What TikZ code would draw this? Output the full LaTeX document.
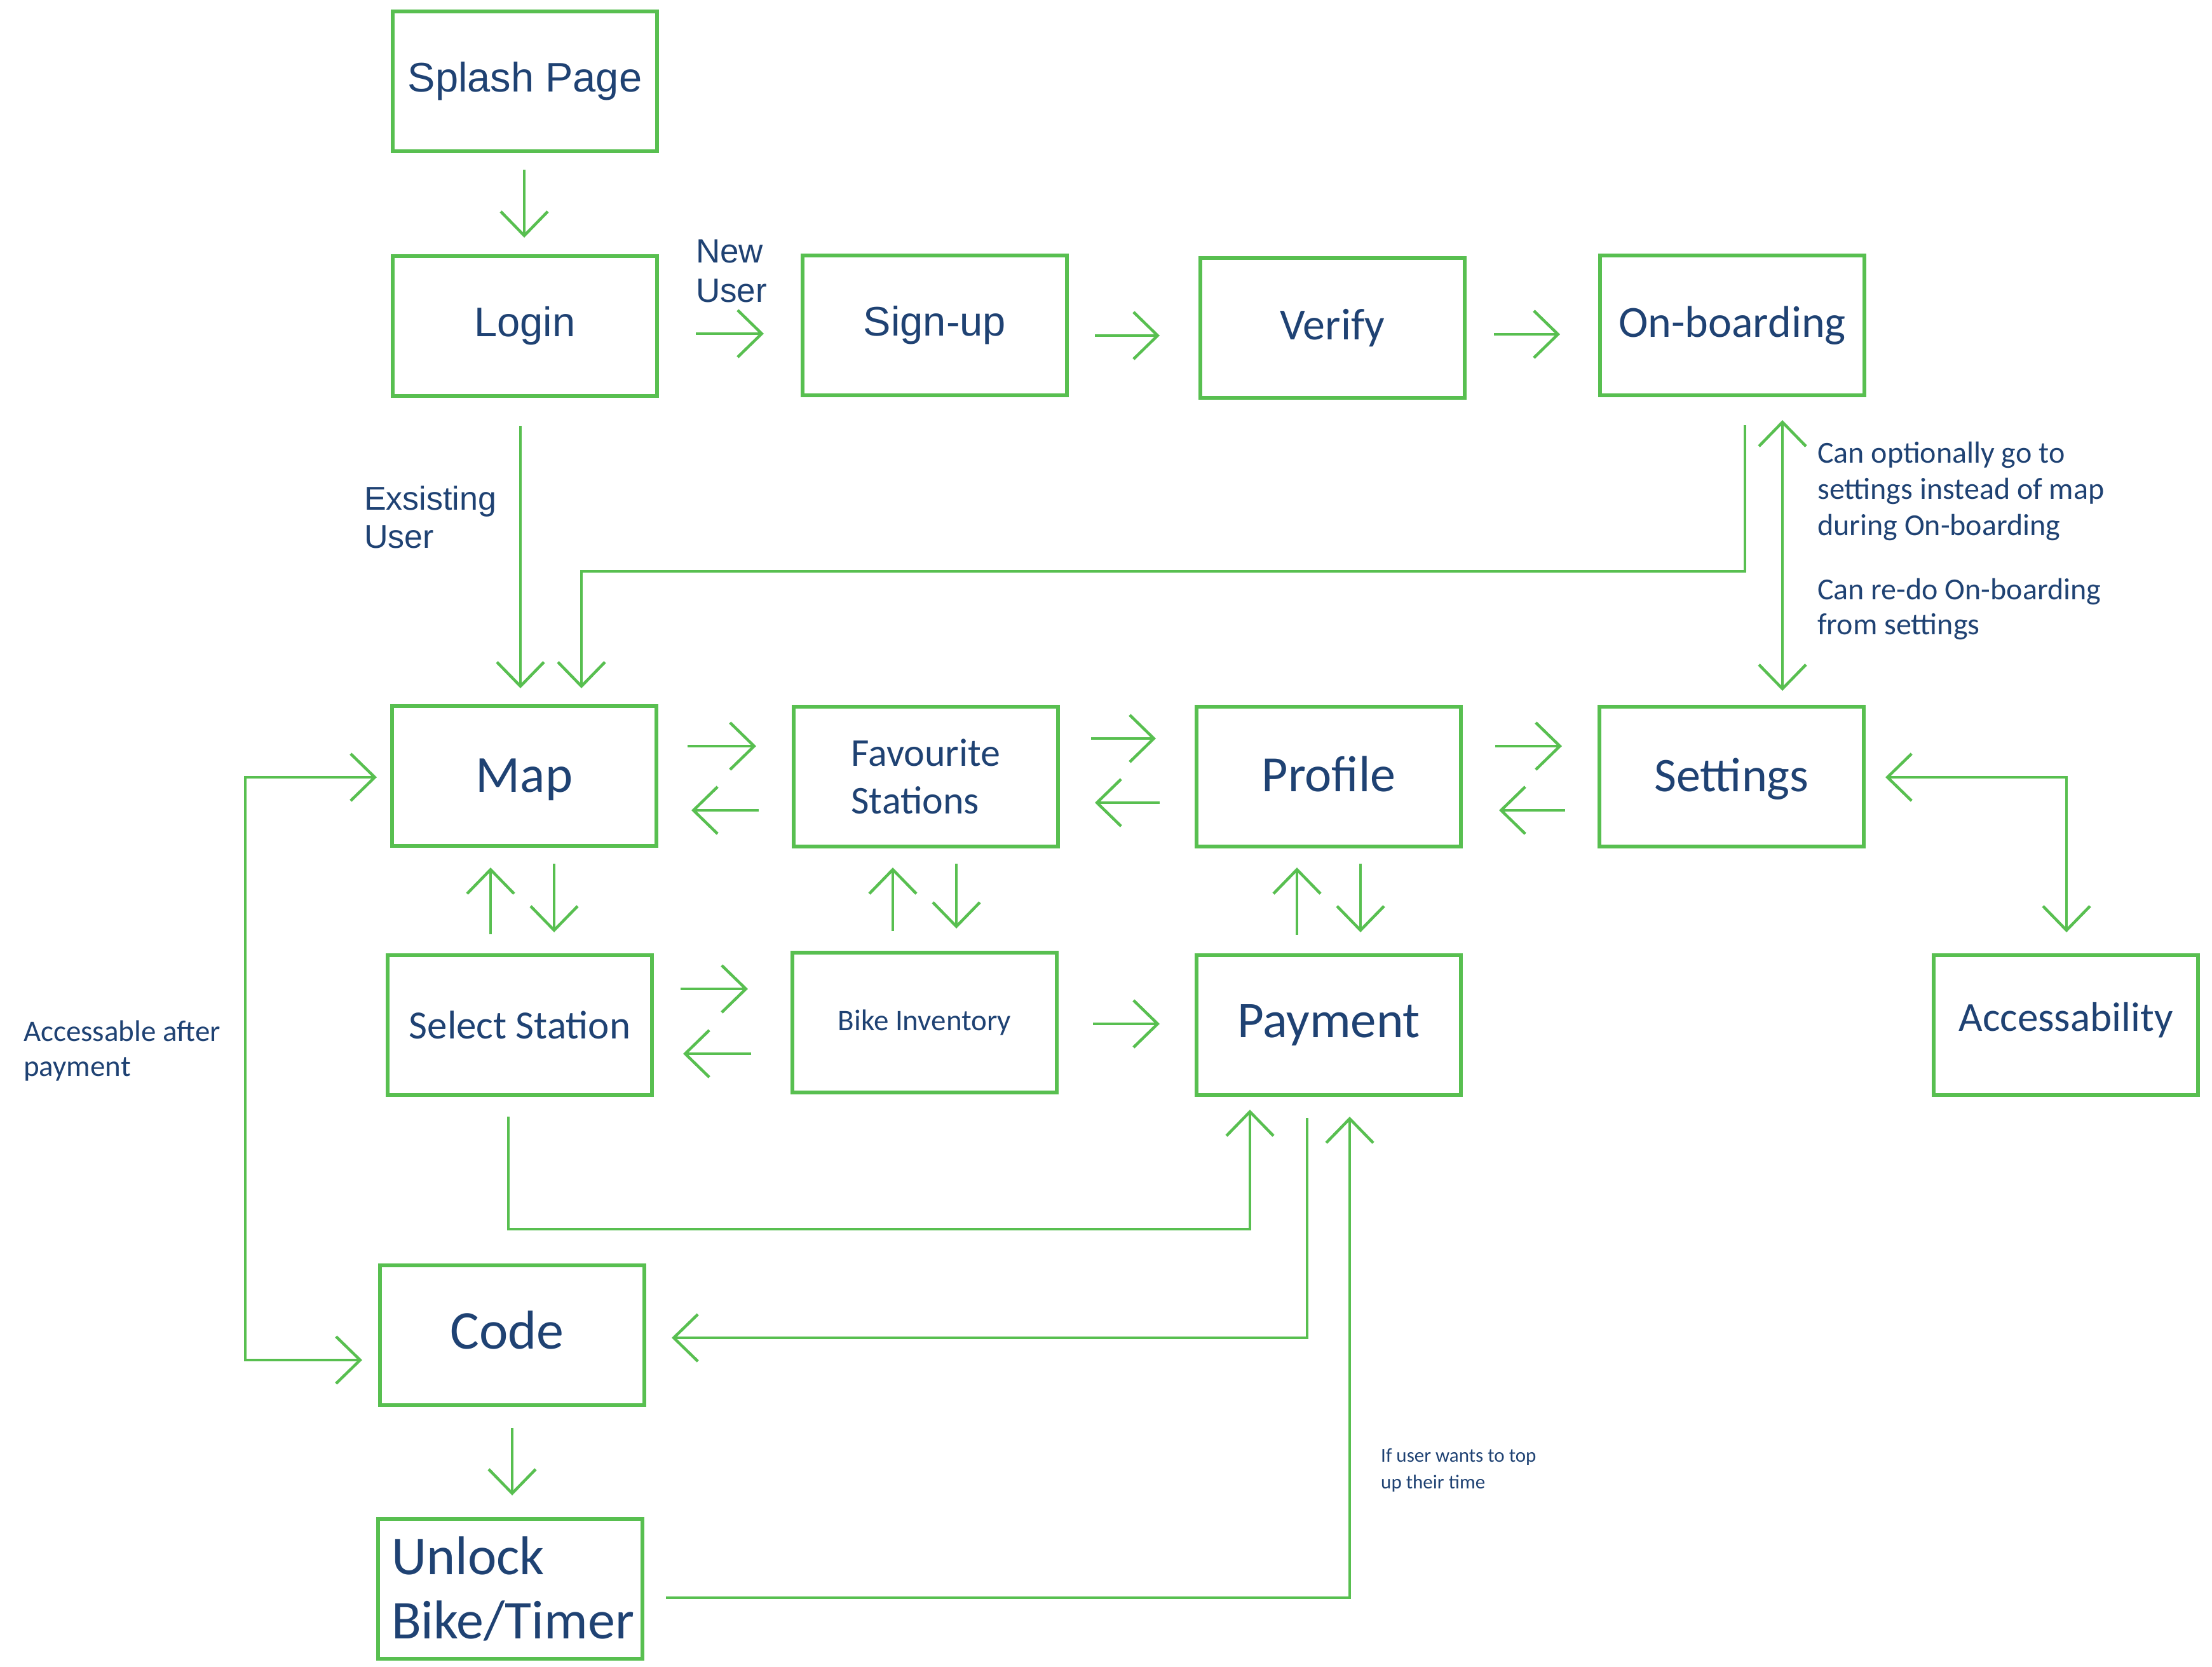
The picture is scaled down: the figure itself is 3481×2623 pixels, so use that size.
\documentclass[tikz,border=0pt]{standalone}
\usepackage{fontspec}
\setmainfont{Carlito}
\newfontfamily\arialf{Liberation Sans}
\usetikzlibrary{arrows.meta,calc}
\definecolor{lgreen}{RGB}{88,191,80}
\definecolor{navy}{RGB}{31,66,115}
\newcommand{\lift}[2]{\raisebox{#1}[\height][\depth]{#2}}
\begin{document}
\begin{tikzpicture}[x=1pt,y=-1pt,
  box/.style={draw=lgreen, line width=6pt, minimum width=416pt, minimum height=220pt, inner sep=0pt, text=navy, align=center},
  afont/.style={font={\arialf\fontsize{#1}{#1}\selectfont}},
  cfont/.style={font={\fontsize{#1}{#1}\selectfont}},
  arr/.style={draw=lgreen, line width=4.5pt, -{Straight Barb[length=38pt,width=74pt]}},
  dbl/.style={draw=lgreen, line width=4.5pt, {Straight Barb[length=38pt,width=74pt]}-{Straight Barb[length=38pt,width=74pt]}},
  note/.style={inner sep=0pt, text=navy, anchor=base west}]
\useasboundingbox (0,0) rectangle (3481,2623);
% boxes
\node[box, afont=65] (splash) at (826,128) {Splash Page};
\node[box, afont=65] (login) at (826,513) {Login};
\node[box, afont=65] (signup) at (1471,512) {Sign-up};
\node[box, cfont=70] (verify) at (2097,516) {Verify};
\node[box, cfont=70] (onb) at (2726,512) {On-boarding};
\node[box, cfont=82] (map) at (825,1221) {\lift{-6pt}{Map}};
\node[box, align=left, font={\fontsize{62}{75}\selectfont}] (fav) at (1457,1222) {Favourite\\Stations};
\node[box, cfont=80] (profile) at (2091,1222) {\lift{4pt}{Profile}};
\node[box, cfont=76] (settings) at (2725,1222) {\lift{-4pt}{Settings}};
\node[box, cfont=63] (select) at (818,1613) {Select Station};
\node[box, cfont=47] (bike) at (1455,1609) {Bike Inventory};
\node[box, cfont=81] (payment) at (2091,1613) {Payment};
\node[box, cfont=65] (access) at (3251,1613) {\lift{8pt}{Accessability}};
\node[box, cfont=86] (code) at (806,2101) {\lift{8pt}{Code\hspace{16pt}}};
\node[box, align=left, font={\fontsize{86}{101}\selectfont}] (unlock) at (803,2500) {\hspace{8pt}Unlock\\\hspace{8pt}Bike/Timer};
% labels
\node[note, font={\arialf\fontsize{53}{62}\selectfont}] (newuser) at (1095,413) {\vtop{\hbox{New}\hbox{User}}};
\node[note, font={\arialf\fontsize{52}{60}\selectfont}] (existing) at (573,802) {\vtop{\hbox{Exsisting}\hbox{User}}};
\node[note, font={\fontsize{48}{57}\selectfont}] (note1) at (2860,728) {\vtop{\hbox{Can optionally go to}\hbox{settings instead of map}\hbox{during On-boarding}}};
\node[note, font={\fontsize{48}{55}\selectfont}] (note2) at (2860,943) {\vtop{\hbox{Can re-do On-boarding}\hbox{from settings}}};
\node[note, font={\fontsize{47}{55}\selectfont}] (note3) at (37,1638) {\vtop{\hbox{Accessable after}\hbox{payment}}};
\node[note, font={\fontsize{31}{42}\selectfont}] (note4) at (2173,2300) {\vtop{\hbox{If user wants to top}\hbox{up their time}}};
% connectors
\draw[arr] ($(splash)+(-1,139)$) -- ($(login)+(-1,-139)$);
\draw[arr] ($(login)+(269,12)$) -- ($(signup)+(-269,13)$);
\draw[arr] ($(signup)+(252,16)$) -- ($(verify)+(-272,12)$);
\draw[arr] ($(verify)+(254,10)$) -- ($(onb)+(-271,14)$);
\draw[arr] ($(login)+(-7,157)$) -- ($(map)+(-6,-138)$);
\draw[arr] ($(onb)+(20,157)$) |- ($(map)+(90,-322)$) -- ($(map)+(90,-138)$);
\draw[dbl] ($(onb)+(79,149)$) -- ($(settings)+(80,-135)$);
\draw[arr] ($(map)+(257,-47)$) -- ($(fav)+(-267,-48)$);
\draw[arr] ($(fav)+(-263,53)$) -- ($(map)+(263,54)$);
\draw[arr] ($(fav)+(260,-60)$) -- ($(profile)+(-272,-60)$);
\draw[arr] ($(profile)+(-266,41)$) -- ($(fav)+(266,41)$);
\draw[arr] ($(profile)+(262,-48)$) -- ($(settings)+(-267,-48)$);
\draw[arr] ($(settings)+(-262,53)$) -- ($(profile)+(268,53)$);
\draw[dbl] ($(settings)+(242,1)$) -| ($(access)+(1,-146)$);
\draw[arr] ($(select)+(-46,-143)$) -- ($(map)+(-53,144)$);
\draw[arr] ($(map)+(47,138)$) -- ($(select)+(54,-146)$);
\draw[arr] ($(select)+(253,-57)$) -- ($(bike)+(-278,-53)$);
\draw[arr] ($(bike)+(-273,49)$) -- ($(select)+(257,45)$);
\draw[arr] ($(bike)+(-50,-144)$) -- ($(fav)+(-52,143)$);
\draw[arr] ($(fav)+(48,137)$) -- ($(bike)+(50,-148)$);
\draw[arr] ($(bike)+(265,2)$) -- ($(payment)+(-266,-2)$);
\draw[arr] ($(payment)+(-50,-142)$) -- ($(profile)+(-50,143)$);
\draw[arr] ($(profile)+(50,137)$) -- ($(payment)+(50,-146)$);
\draw[arr] ($(select)+(-18,144)$) |- ($(payment)+(-124,321)$) -- ($(payment)+(-124,133)$);
\draw[arr] ($(payment)+(-34,146)$) |- ($(code)+(251,4)$);
\draw[arr] ($(unlock)+(245,14)$) -| ($(payment)+(33,144)$);
\draw[arr] ($(code)+(0,146)$) -- ($(unlock)+(3,-147)$);
\draw[dbl] ($(map)+(-232,2)$) -- ($(map)+(-439,2)$) |- ($(code)+(-236,39)$);
\end{tikzpicture}
\end{document}
